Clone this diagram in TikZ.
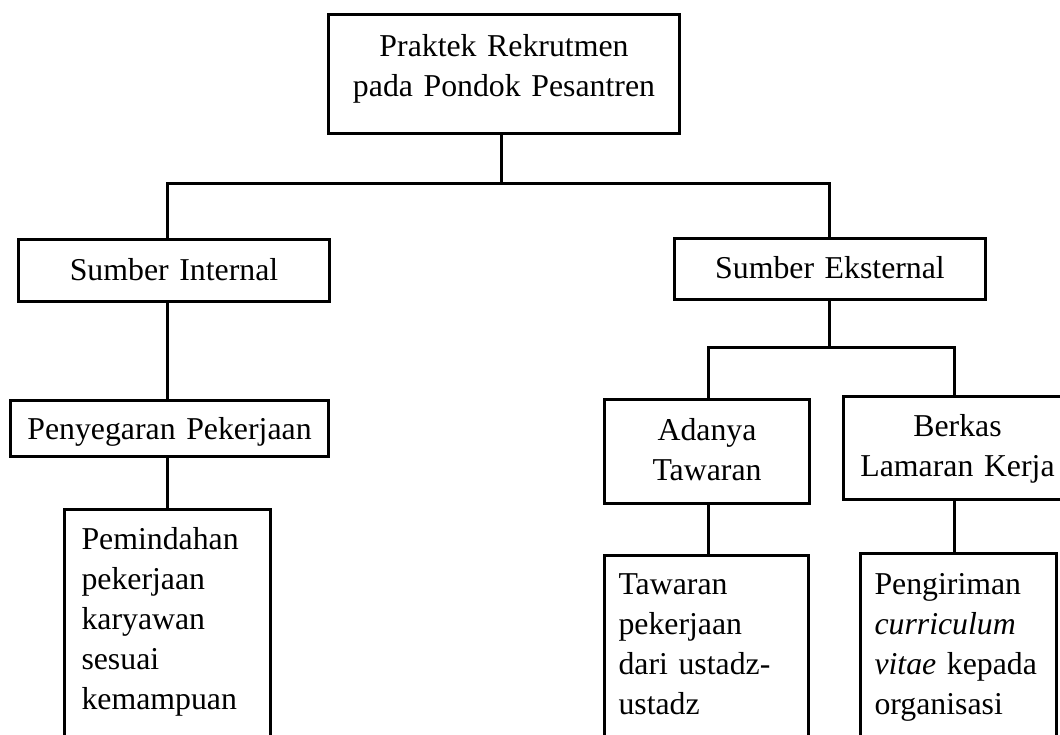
\documentclass[tikz,border=0pt]{standalone}
\usepackage{fontspec}
\setmainfont{Liberation Serif}
\begin{document}
\begin{tikzpicture}[x=1pt,y=-1pt,
  box/.style={draw, line width=3pt, rectangle, anchor=north west,
    inner ysep=0pt, font=\fontsize{31.8}{40}\selectfont},
  cbox/.style={box, inner xsep=0pt, align=center},
  lbox/.style={box, inner xsep=15pt, align=left},
  link/.style={line width=3pt}]
\useasboundingbox (0,0) rectangle (1060,735);
\begin{scope}
\clip (0,0) rectangle (1060,735);

% root
\node[cbox, minimum width=351pt, text width=351pt,
      text height=42pt, text depth=77pt] (root) at (327,13)
  {Praktek Rekrutmen\\pada Pondok Pesantren};

% internal branch
\node[cbox, minimum width=311pt, text width=311pt,
      text height=41pt, text depth=21pt] (si) at (17,238) {Sumber Internal};
\node[cbox, minimum width=318pt, text width=318pt,
      text height=39pt, text depth=17pt] (ps) at (9,399) {Penyegaran Pekerjaan};
\node[lbox, inner xsep=17pt, minimum width=206pt, text width=172pt,
      text height=40pt, text depth=260pt] (pm) at (63,508)
  {Pemindahan\\pekerjaan\\karyawan\\sesuai\\kemampuan};

% external branch
\node[cbox, minimum width=311pt, text width=311pt,
      text height=40pt, text depth=21pt] (se) at (673,237) {Sumber Eksternal};
\node[cbox, minimum width=205pt, text width=205pt,
      text height=41pt, text depth=63pt] (at) at (603,398) {Adanya\\Tawaran};
\node[cbox, minimum width=228pt, text width=228pt,
      text height=40pt, text depth=63pt] (bl) at (842,395) {Berkas\\Lamaran Kerja};
\node[lbox, inner xsep=14pt, minimum width=204pt, text width=176pt,
      text height=39pt, text depth=260pt] (tp) at (603,554)
  {Tawaran\\pekerjaan\\dari ustadz-\\ustadz};
\node[lbox, inner xsep=14pt, minimum width=196pt, text width=168pt,
      text height=41pt, text depth=260pt] (pc) at (859,552)
  {Pengiriman\\\textit{curriculum}\\\textit{vitae} kepada\\organisasi};

% connector columns and junctions
\coordinate (colL) at (167,0);
\coordinate (colA) at (708,0);
\coordinate (colB) at (954,0);
\coordinate (j1) at (501,184);
\coordinate (j2) at (829,347);

\draw[link] (root.south -| j1) -- (j1);
\draw[link] (si.north -| colL) |- (j1) -| (se.north -| j2);
\draw[link] (si.south -| colL) -- (ps.north -| colL);
\draw[link] (ps.south -| colL) -- (pm.north -| colL);

\draw[link] (se.south -| j2) -- (j2);
\draw[link] (at.north -| colA) |- (j2) -| (bl.north -| colB);
\draw[link] (at.south -| colA) -- (tp.north -| colA);
\draw[link] (bl.south -| colB) -- (pc.north -| colB);
\end{scope}
\end{tikzpicture}
\end{document}
